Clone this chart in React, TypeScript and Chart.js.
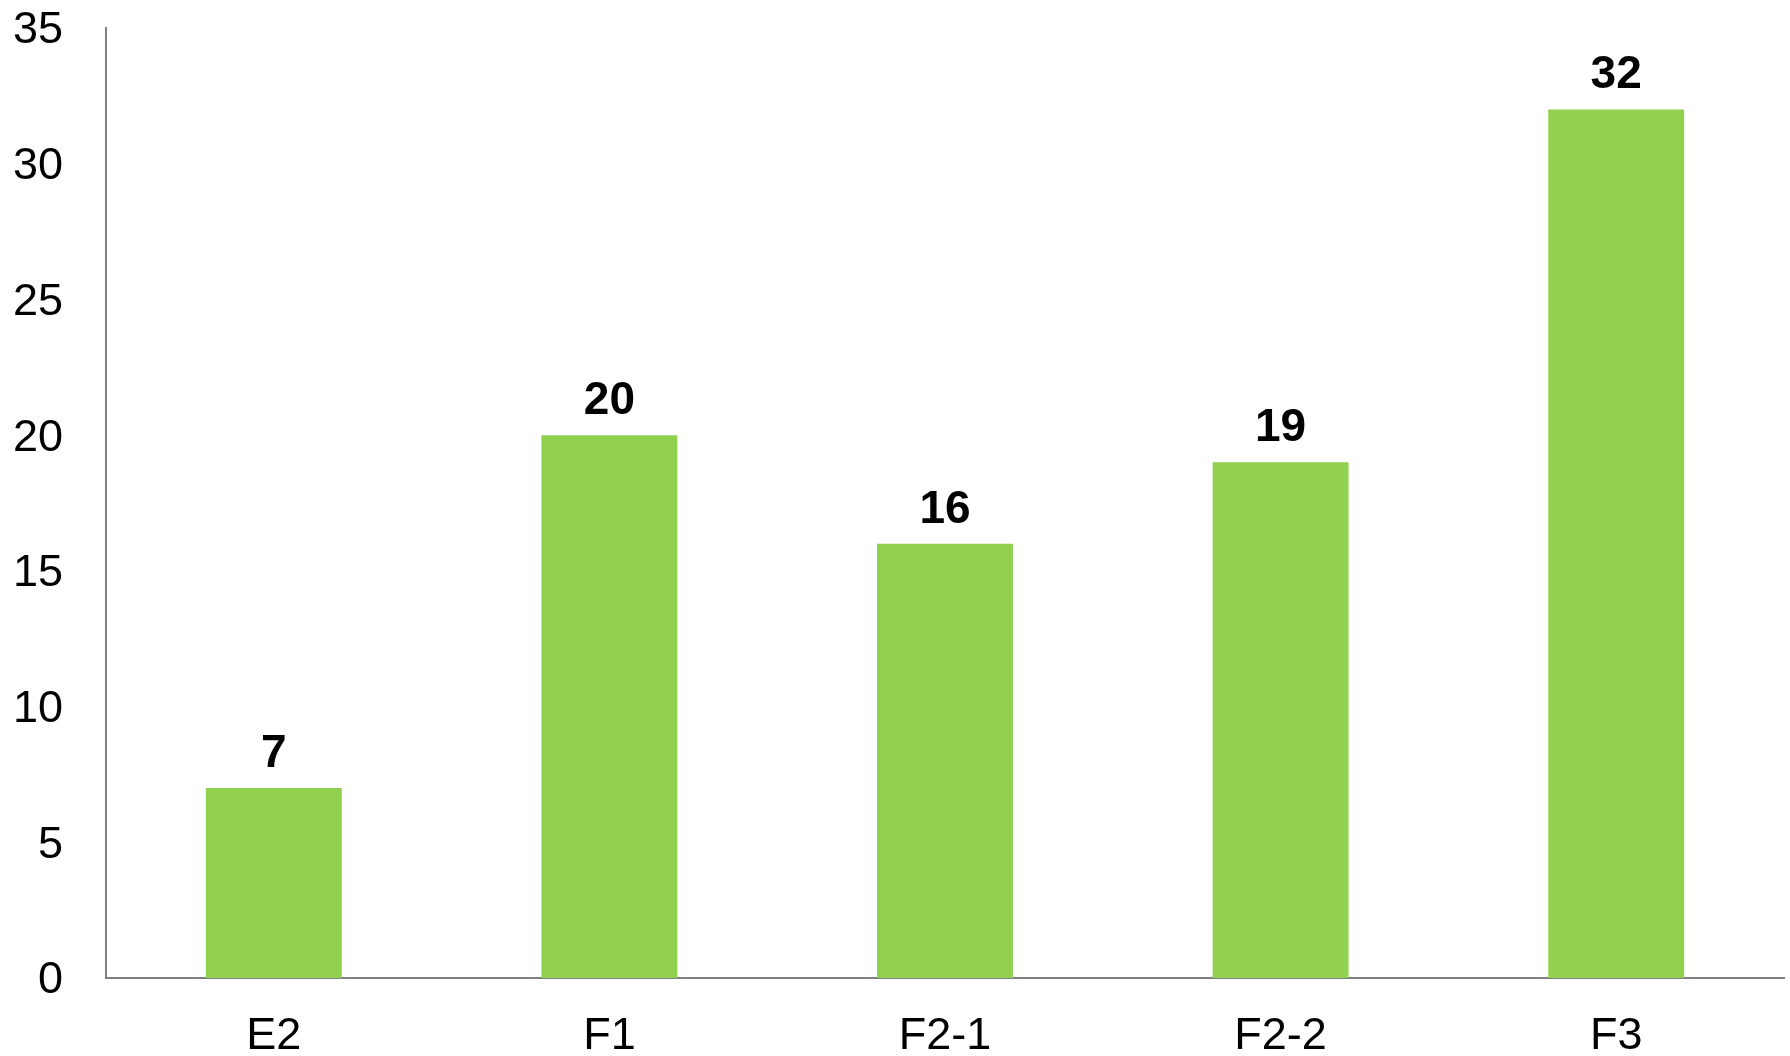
import React, { useEffect, useRef } from "react";
import { Chart, registerables } from "chart.js";

Chart.register(...registerables);

const categories = ["E2", "F1", "F2-1", "F2-2", "F3"];
const values = [7, 20, 16, 19, 32];
const yTicks = { min: 0, max: 35, step: 5 };

const FONT = "'Liberation Sans', Arial, sans-serif";
const BAR_COLOR = "#92D050";
const AXIS_COLOR = "#7f7f7f";

const valueLabels = {
  id: "valueLabels",
  afterDatasetsDraw(chart: any) {
    const ctx = chart.ctx;
    const meta = chart.getDatasetMeta(0);
    ctx.save();
    ctx.font = `bold 46px ${FONT}`;
    ctx.fillStyle = "#000000";
    ctx.textAlign = "center";
    ctx.textBaseline = "alphabetic";
    meta.data.forEach((bar: any, i: number) => {
      ctx.fillText(String(values[i]), bar.x, bar.y - 21);
    });
    ctx.restore();
  },
};

export default function App() {
  const canvasRef = useRef<HTMLCanvasElement | null>(null);

  useEffect(() => {
    if (!canvasRef.current) return;
    const chart = new Chart(canvasRef.current, {
      type: "bar",
      data: {
        labels: categories,
        datasets: [
          {
            data: values,
            backgroundColor: BAR_COLOR,
            borderWidth: 0,
            barPercentage: 0.405,
            categoryPercentage: 1,
          },
        ],
      },
      options: {
        animation: false,
        responsive: true,
        maintainAspectRatio: false,
        layout: { padding: { top: 28, right: 6, left: 0, bottom: 0 } },
        plugins: {
          legend: { display: false },
          tooltip: { enabled: false },
          title: { display: false },
        },
        scales: {
          x: {
            z: 1,
            grid: { display: false, drawTicks: false },
            border: { display: true, color: AXIS_COLOR, width: 2 },
            ticks: {
              color: "#000000",
              font: { family: FONT, size: 45 },
              padding: 32,
              maxRotation: 0,
              autoSkip: false,
            },
            afterFit(scale: any) {
              scale.height = 78;
              scale.paddingLeft = 0;
              scale.paddingRight = 0;
            },
          },
          y: {
            min: yTicks.min,
            max: yTicks.max,
            grid: { display: false, drawTicks: false },
            border: { display: true, color: AXIS_COLOR, width: 2 },
            ticks: {
              stepSize: yTicks.step,
              color: "#000000",
              font: { family: FONT, size: 45 },
              padding: 43,
              labelOffset: 3,
            },
            afterFit(scale: any) {
              scale.width = 106;
              scale.paddingTop = 0;
              scale.paddingBottom = 0;
            },
          },
        },
      },
      plugins: [valueLabels],
    });
    return () => chart.destroy();
  }, []);

  return (
    <div
      style={{
        position: "absolute",
        left: 0,
        top: 0,
        width: 1790,
        height: 1056,
        background: "#ffffff",
      }}
    >
      <canvas ref={canvasRef} />
    </div>
  );
}
